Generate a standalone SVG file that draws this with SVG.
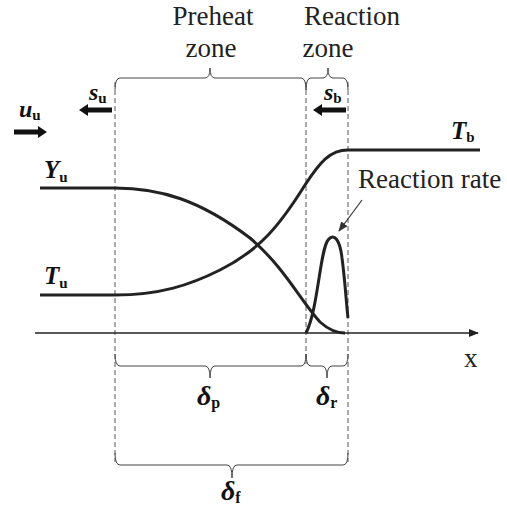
<svg xmlns="http://www.w3.org/2000/svg" width="507" height="515" viewBox="0 0 507 515">
<style>
text{font-family:'Liberation Serif','Times New Roman',serif}
.lbl{fill:#222}
.var{font-weight:bold;font-style:italic;fill:#111}
.sub{font-style:normal;font-weight:bold}
.dash{stroke:#444;stroke-width:0.9;stroke-dasharray:5,3;fill:none}
.brace{stroke:#444;stroke-width:1;fill:none}
.curve{stroke:#222;stroke-width:3;fill:none}
.axis{stroke:#222;stroke-width:1.5;fill:none}
</style>
<defs>
<marker id="ah" markerWidth="10" markerHeight="8" refX="9" refY="4" orient="auto" markerUnits="userSpaceOnUse">
<path d="M0,0 L10,4 L0,8 Z" fill="#222"/>
</marker>
<marker id="thin" markerWidth="10" markerHeight="8" refX="9" refY="4" orient="auto" markerUnits="userSpaceOnUse">
<path d="M0,0 L10,4 L0,8 Z" fill="#333"/>
</marker>
</defs>
<rect width="507" height="515" fill="#fff"/>

<g id="dashes">
<line class="dash" x1="115" y1="82" x2="115" y2="462"/>
<line class="dash" x1="306" y1="82" x2="306" y2="364"/>
<line class="dash" x1="348" y1="82" x2="348" y2="462"/>
</g>

<g id="braces">
<path class="brace" d="M115,90 Q115,78 120,78 L205,78 Q210,78 210,68 Q210,78 215,78 L301,78 Q306,78 306,90"/>
<path class="brace" d="M306,90 Q306,78 311,78 L323,78 Q328,78 328,68 Q328,78 333,78 L343,78 Q348,78 348,90"/>
<path class="brace" d="M115,354 Q115,366 120,366 L205,366 Q210,366 210,378 Q210,366 215,366 L301,366 Q306,366 306,354"/>
<path class="brace" d="M306,354 Q306,366 311,366 L322,366 Q327,366 327,378 Q327,366 332,366 L343,366 Q348,366 348,354"/>
<path class="brace" d="M115,453 Q115,465 120,465 L227,465 Q232,465 232,478 Q232,465 237,465 L343,465 Q348,465 348,453"/>
</g>

<g id="zone-labels">
<text class="lbl" x="213" y="25" font-size="27" text-anchor="middle">Preheat</text>
<text class="lbl" x="211" y="57" font-size="27" text-anchor="middle">zone</text>
<text class="lbl" x="352" y="25" font-size="27" text-anchor="middle">Reaction</text>
<text class="lbl" x="328" y="57" font-size="27" text-anchor="middle">zone</text>
</g>

<g id="connectors">
<line class="axis" x1="35" y1="333" x2="478" y2="333" marker-end="url(#ah)"/>
<line x1="14" y1="132" x2="40" y2="132" stroke="#111" stroke-width="5"/>
<path d="M38,126 L47,132 L38,138 Z" fill="#111"/>
<line x1="86" y1="110" x2="112" y2="110" stroke="#111" stroke-width="5"/>
<path d="M88,104 L79,110 L88,116 Z" fill="#111"/>
<line x1="320" y1="110" x2="346" y2="110" stroke="#111" stroke-width="5"/>
<path d="M322,104 L313,110 L322,116 Z" fill="#111"/>
<line x1="362" y1="200" x2="339" y2="231" stroke="#333" stroke-width="1.2" marker-end="url(#thin)"/>
</g>

<g id="curves">
<path class="curve" d="M40,188 L115,188 C160,188 200,200 250,238 C285,268 300,300 320,322 C330,331 338,333 345,333"/>
<path class="curve" d="M40,295 L115,295 C160,295 190,285 220,270 C260,250 280,225 305,185 C320,162 330,150 348,150 L480,150"/>
<path class="curve" d="M306,333 C318,310 320,250 328,240 C334,232 340,240 342,258 C345,280 346,300 348,318"/>
</g>

<g id="var-labels">
<text class="var" x="19" y="117" font-size="24">u<tspan class="sub" font-size="15" dy="3">u</tspan></text>
<text class="var" x="89" y="100" font-size="24">s<tspan class="sub" font-size="15" dy="3">u</tspan></text>
<text class="var" x="324" y="100" font-size="24">s<tspan class="sub" font-size="15" dy="3">b</tspan></text>
<text class="var" x="44" y="178" font-size="25">Y<tspan class="sub" font-size="15" dy="4">u</tspan></text>
<text class="var" x="44" y="284" font-size="25">T<tspan class="sub" font-size="15" dy="4">u</tspan></text>
<text class="var" x="451" y="139" font-size="25">T<tspan class="sub" font-size="15" dy="3">b</tspan></text>
<text class="lbl" x="358" y="188" font-size="27">Reaction rate</text>
<text class="lbl" x="464" y="367" font-size="27">x</text>
<text class="var" x="197" y="405" font-size="28">δ<tspan class="sub" font-size="16" dy="3">p</tspan></text>
<text class="var" x="316" y="405" font-size="28">δ<tspan class="sub" font-size="16" dy="3">r</tspan></text>
<text class="var" x="221" y="500" font-size="28">δ<tspan class="sub" font-size="16" dy="3">f</tspan></text>
</g>
</svg>
